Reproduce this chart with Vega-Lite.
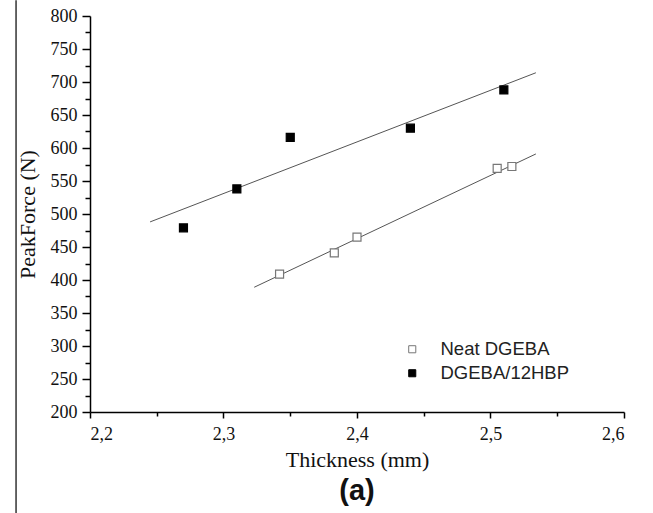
{
  "$schema": "https://vega.github.io/schema/vega-lite/v6.json",
  "width": 534,
  "height": 396,
  "autosize": {"type": "none"},
  "padding": {"left": 90, "top": 16, "right": 29, "bottom": 101},
  "background": "white",
  "config": {"view": {"stroke": null}},
  "title": {"text": "(a)", "orient": "bottom", "font": "Liberation Sans", "fontSize": 29, "fontWeight": "bold", "color": "#111", "offset": -37, "anchor": "middle"},
  "resolve": {"axis": {"x": "independent", "y": "independent"}},
  "datasets": {
    "points": [
      {"series": "Neat DGEBA", "thickness": 2.342, "force": 409},
      {"series": "Neat DGEBA", "thickness": 2.383, "force": 441},
      {"series": "Neat DGEBA", "thickness": 2.400, "force": 465},
      {"series": "Neat DGEBA", "thickness": 2.505, "force": 569},
      {"series": "Neat DGEBA", "thickness": 2.516, "force": 572},
      {"series": "DGEBA/12HBP", "thickness": 2.270, "force": 479},
      {"series": "DGEBA/12HBP", "thickness": 2.310, "force": 538},
      {"series": "DGEBA/12HBP", "thickness": 2.350, "force": 616},
      {"series": "DGEBA/12HBP", "thickness": 2.440, "force": 630},
      {"series": "DGEBA/12HBP", "thickness": 2.510, "force": 688}
    ],
    "fits": [
      {"series": "Neat DGEBA", "thickness": 2.323, "force": 389},
      {"series": "Neat DGEBA", "thickness": 2.534, "force": 591},
      {"series": "DGEBA/12HBP", "thickness": 2.245, "force": 488},
      {"series": "DGEBA/12HBP", "thickness": 2.534, "force": 714}
    ],
    "border": [
      {"thickness": 2.1446, "force": 824, "force2": 47}
    ]
  },
  "layer": [
    {
      "data": {"name": "border"},
      "mark": {"type": "rule", "color": "#000", "strokeWidth": 1.2, "clip": false},
      "encoding": {
        "x": {"field": "thickness", "type": "quantitative", "axis": null},
        "y": {"field": "force", "type": "quantitative", "axis": null},
        "y2": {"field": "force2"}
      }
    },
    {
      "data": {"name": "fits"},
      "mark": {"type": "line", "color": "#555", "strokeWidth": 1},
      "encoding": {
        "x": {
          "field": "thickness", "type": "quantitative",
          "axis": {
            "title": null, "orient": "bottom", "values": [2.25, 2.35, 2.45, 2.55],
            "labels": false, "domain": false, "grid": false,
            "tickColor": "#000", "tickWidth": 1.5, "tickSize": 4
          }
        },
        "y": {
          "field": "force", "type": "quantitative",
          "axis": {
            "title": null, "orient": "left",
            "values": [225, 275, 325, 375, 425, 475, 525, 575, 625, 675, 725, 775],
            "labels": false, "domain": false, "grid": false,
            "tickColor": "#000", "tickWidth": 1.5, "tickSize": 5
          }
        },
        "detail": {"field": "series"}
      }
    },
    {
      "data": {"name": "points"},
      "mark": {"type": "point", "shape": "square", "size": 64, "strokeWidth": 1.2, "opacity": 1},
      "encoding": {
        "x": {
          "field": "thickness", "type": "quantitative",
          "scale": {"domain": [2.2, 2.6], "nice": false, "zero": false},
          "axis": {
            "title": "Thickness (mm)", "orient": "bottom",
            "titleFont": "Liberation Serif", "titleFontSize": 22, "titleFontWeight": "normal", "titleColor": "#111", "titlePadding": 6,
            "values": [2.2, 2.3, 2.4, 2.5, 2.6],
            "labelExpr": "replace(format(datum.value, '.1f'), '.', ',')",
            "labelFont": "Liberation Serif", "labelFontSize": 18, "labelColor": "#111", "labelPadding": 7,
            "labelOverlap": false,
            "grid": false, "domainColor": "#000", "domainWidth": 1.5,
            "tickColor": "#000", "tickWidth": 1.5, "tickSize": 6
          }
        },
        "y": {
          "field": "force", "type": "quantitative",
          "scale": {"domain": [200, 800], "nice": false, "zero": false},
          "axis": {
            "title": "PeakForce (N)", "orient": "left",
            "titleFont": "Liberation Serif", "titleFontSize": 22, "titleFontWeight": "normal", "titleColor": "#111", "titlePadding": 11,
            "values": [200, 250, 300, 350, 400, 450, 500, 550, 600, 650, 700, 750, 800],
            "labelFont": "Liberation Serif", "labelFontSize": 18, "labelColor": "#111", "labelPadding": 5,
            "labelOverlap": false,
            "grid": false, "domainColor": "#000", "domainWidth": 1.5,
            "tickColor": "#000", "tickWidth": 1.5, "tickSize": 8
          }
        },
        "fill": {
          "field": "series", "type": "nominal",
          "scale": {"domain": ["Neat DGEBA", "DGEBA/12HBP"], "range": ["white", "black"]},
          "legend": {
            "title": null, "orient": "none", "legendX": 313, "legendY": 324,
            "labelFont": "Liberation Sans", "labelFontSize": 18.5, "labelColor": "#222",
            "symbolType": "square", "symbolSize": 50, "symbolStrokeWidth": 1,
            "labelOffset": 19, "rowPadding": 5
          }
        },
        "stroke": {
          "field": "series", "type": "nominal",
          "scale": {"domain": ["Neat DGEBA", "DGEBA/12HBP"], "range": ["#777", "black"]},
          "legend": {
            "title": null, "orient": "none", "legendX": 313, "legendY": 324,
            "labelFont": "Liberation Sans", "labelFontSize": 18.5, "labelColor": "#222",
            "symbolType": "square", "symbolSize": 50, "symbolStrokeWidth": 1,
            "labelOffset": 19, "rowPadding": 5
          }
        }
      }
    }
  ]
}
